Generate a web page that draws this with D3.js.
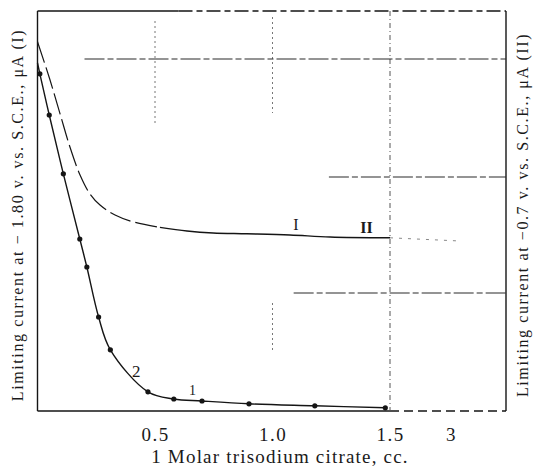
<!DOCTYPE html>
<html>
<head>
<meta charset="utf-8">
<script src="https://cdn.jsdelivr.net/npm/d3@7"></script>
<style>
  body { margin: 0; background: #fff; }
  svg text { font-family: "Liberation Serif", "DejaVu Serif", serif; fill: #1a1a1a; }
</style>
</head>
<body>
<div id="chart"></div>
<script>
// curve 2 (measured points, dots)
const curve2X = [0.01, 0.05, 0.11, 0.18, 0.21, 0.26, 0.31, 0.47, 0.58, 0.70, 0.90, 1.18, 1.48];
const curve2Y = [84.3, 74.0, 59.3, 43.0, 36.0, 23.5, 15.3, 4.8, 3.0, 2.5, 1.8, 1.3, 0.8];

// curve I (no dots)
const curve1X = [0.0, 0.053, 0.096, 0.138, 0.181, 0.223, 0.266, 0.33, 0.406, 0.521, 0.636, 0.747, 0.891, 1.074, 1.245, 1.5];
const curve1Y = [92.3, 82.8, 74.3, 66.0, 59.0, 54.3, 51.5, 49.0, 47.3, 45.9, 45.0, 44.5, 44.3, 44.0, 43.5, 43.3];

// faint continuation of curve I past the break
const extX = [1.5, 3.22];
const extY = [43.3, 42.5];

const tickValues = [0.5, 1.0, 1.5, 3];
const tickLabels = ["0.5", "1.0", "1.5", "3"];

// partial grid lines (data units)
const vGrid = [
  { x: 0.5, y0: 71.5, y1: 97.5 },
  { x: 1.0, y0: 74.5, y1: 98.5 },
  { x: 1.0, y0: 14.5, y1: 27.0 }
];
const hGrid = [
  { y: 88.0, x0: 0.2 },
  { y: 58.5, x0: 1.24 },
  { y: 29.5, x0: 1.09 }
];

const curveLabels = [
  { text: "I", x: 1.10, y: 45.3, size: 16 },
  { text: "II", x: 1.40, y: 44.5, size: 16 },
  { text: "2", x: 0.42, y: 8.5, size: 17 },
  { text: "1", x: 0.66, y: 4.0, size: 14 }
];

const width = 533, height = 469;
const svg = d3.select("#chart").append("svg")
  .attr("width", width).attr("height", height);

// broken axis: 0..1.5 linear, then compressed part up to 3
const x = d3.scaleLinear().domain([0, 1.5, 3]).range([37.5, 390, 451]);
const xRight = 506;
const y = d3.scaleLinear().domain([0, 100]).range([411, 11]);

const ink = "#151515";

// frame
svg.append("line").attr("x1", x(0)).attr("x2", x(0)).attr("y1", y(100)).attr("y2", y(0))
  .attr("stroke", ink).attr("stroke-width", 1.4);
svg.append("line").attr("x1", xRight).attr("x2", xRight).attr("y1", y(100)).attr("y2", y(0))
  .attr("stroke", ink).attr("stroke-width", 1.4);
svg.append("line").attr("x1", x(0)).attr("x2", x(1.5)).attr("y1", y(0)).attr("y2", y(0))
  .attr("stroke", ink).attr("stroke-width", 1.4);
svg.append("line").attr("x1", x(1.5)).attr("x2", xRight).attr("y1", y(0)).attr("y2", y(0))
  .attr("stroke", ink).attr("stroke-width", 1.4).attr("stroke-dasharray", "9,5");
svg.append("line").attr("x1", x(0)).attr("x2", x(0.6)).attr("y1", y(100)).attr("y2", y(100))
  .attr("stroke", ink).attr("stroke-width", 1.4);
svg.append("line").attr("x1", x(0.6)).attr("x2", xRight).attr("y1", y(100)).attr("y2", y(100))
  .attr("stroke", ink).attr("stroke-width", 1.4).attr("stroke-dasharray", "14,4,6,4");

// 1.5 break line
svg.append("line").attr("x1", x(1.5)).attr("x2", x(1.5)).attr("y1", y(100)).attr("y2", y(0))
  .attr("stroke", "#555").attr("stroke-width", 1).attr("stroke-dasharray", "5,3,1,3");

// partial grid
svg.selectAll(".vgrid").data(vGrid).enter().append("line")
  .attr("class", "vgrid")
  .attr("x1", d => x(d.x)).attr("x2", d => x(d.x))
  .attr("y1", d => y(d.y1)).attr("y2", d => y(d.y0))
  .attr("stroke", "#777").attr("stroke-width", 1).attr("stroke-dasharray", "2,3");
svg.selectAll(".hgrid").data(hGrid).enter().append("line")
  .attr("class", "hgrid")
  .attr("x1", d => x(d.x0)).attr("x2", xRight)
  .attr("y1", d => y(d.y)).attr("y2", d => y(d.y))
  .attr("stroke", "#2a2a2a").attr("stroke-width", 1.1).attr("stroke-dasharray", "20,3,6,3");

const line = d3.line()
  .x(d => x(d[0])).y(d => y(d[1]))
  .curve(d3.curveCatmullRom.alpha(0.5));

// curve I: broken strokes on the steep part, solid on the plateau
const c1 = d3.zip(curve1X, curve1Y);
svg.append("path").datum(c1.filter(d => d[0] <= 0.53))
  .attr("d", line).attr("fill", "none").attr("stroke", ink)
  .attr("stroke-width", 1.2).attr("stroke-dasharray", "22,5");
svg.append("path").datum(c1.filter(d => d[0] >= 0.52))
  .attr("d", line).attr("fill", "none").attr("stroke", ink)
  .attr("stroke-width", 1.4);
svg.append("path").datum(d3.zip(extX, extY))
  .attr("d", d3.line().x(d => x(d[0])).y(d => y(d[1])))
  .attr("fill", "none").attr("stroke", "#888")
  .attr("stroke-width", 1).attr("stroke-dasharray", "3,6");

// curve 2 with points
const c2 = d3.zip(curve2X, curve2Y);
svg.append("path").datum([[0, 87]].concat(c2))
  .attr("d", line).attr("fill", "none").attr("stroke", ink).attr("stroke-width", 1.4);
svg.selectAll(".pt").data(c2).enter().append("circle")
  .attr("class", "pt")
  .attr("cx", d => x(d[0])).attr("cy", d => y(d[1]))
  .attr("r", 2.6).attr("fill", ink);

// curve labels
svg.selectAll(".clab").data(curveLabels).enter().append("text")
  .attr("class", "clab")
  .attr("x", d => x(d.x)).attr("y", d => y(d.y))
  .attr("text-anchor", "middle")
  .style("font-size", d => d.size + "px")
  .style("font-weight", d => d.text === "II" ? "bold" : "normal")
  .text(d => d.text);

// bottom axis labels
const xAxis = d3.axisBottom(x)
  .tickValues(tickValues)
  .tickFormat((d, i) => tickLabels[i])
  .tickSize(0).tickPadding(17);
const ax = svg.append("g").attr("transform", `translate(0,${y(0)})`).call(xAxis);
ax.select(".domain").remove();
ax.selectAll("text").style("font-size", "19px").style("letter-spacing", "1.5px")
  .style("font-family", "'Liberation Serif', serif").attr("fill", "#1a1a1a");

svg.append("text")
  .attr("x", 280).attr("y", 463)
  .attr("text-anchor", "middle")
  .style("font-size", "19px").style("letter-spacing", "1.2px")
  .text("1 Molar trisodium citrate, cc.");

svg.append("text")
  .attr("transform", "translate(23,215) rotate(-90)")
  .attr("text-anchor", "middle")
  .style("font-size", "16px").style("letter-spacing", "1.6px")
  .text("Limiting current at \u2212 1.80 v. vs. S.C.E., \u03bcA (I)");

svg.append("text")
  .attr("transform", "translate(528,215) rotate(-90)")
  .attr("text-anchor", "middle")
  .style("font-size", "16px").style("letter-spacing", "1.6px")
  .text("Limiting current at \u22120.7 v. vs. S.C.E., \u03bcA (II)");
</script>
</body>
</html>
